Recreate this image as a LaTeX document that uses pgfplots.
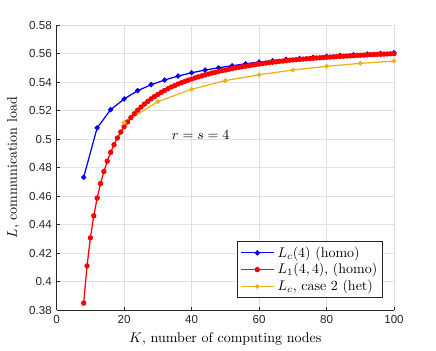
\documentclass[border=0pt]{standalone}
\usepackage{pgfplots}
\pgfplotsset{compat=1.18}
\usepackage{fontspec}
\newfontfamily\ticksf{Liberation Sans}

\definecolor{mblue}{rgb}{0,0,1}
\definecolor{mred}{rgb}{1,0,0}
\definecolor{morange}{rgb}{0.929,0.694,0.125}
\definecolor{axgray}{rgb}{0.15,0.15,0.15}
\definecolor{gridgray}{rgb}{0.88,0.88,0.88}

\begin{document}
\begin{tikzpicture}
\begin{axis}[
    scale only axis,
    width=241.1pt, height=203.6pt,
    xmin=0, xmax=100,
    ymin=0.38, ymax=0.58,
    xtick={0,20,...,100},
    ytick={0.38,0.40,...,0.581},
    axis x line*=bottom,
    axis y line*=left,
    axis line style={axgray, line width=0.5pt},
    tick pos=left,
    tick align=inside,
    major tick length=2.6pt,
    tick style={axgray, line width=0.5pt},
    grid=major,
    major grid style={gridgray, line width=0.5pt},
    /pgf/number format/assume math mode=true,
    tick label style={font=\ticksf\fontsize{8.3}{9}\selectfont, text=axgray},
    xlabel={$K$, number of computing nodes},
    ylabel={$L$, communication load},
    label style={font=\fontsize{10}{12}\selectfont},
    legend style={at={(0.966,0.043)}, anchor=south east,
        draw=axgray, line width=0.5pt, fill=white,
        font=\fontsize{10}{12}\selectfont, row sep=-1pt,
        inner sep=1.5pt},
    legend cell align=left,
    legend image code/.code={
        \draw[mark repeat=2,mark phase=2] plot coordinates {(0pt,0pt) (12pt,0pt) (24pt,0pt)};
    },
]

% L_c(4) homo
\addplot[mblue, line width=0.9pt, mark=*, mark size=1.4pt] coordinates {
(8,0.4733) (12,0.5080) (16,0.5208) (20,0.5283) (24,0.5341) (28,0.5383)
(32,0.5416) (36,0.5444) (40,0.5467) (44,0.5486) (48,0.5502) (52,0.5516)
(56,0.5530) (60,0.5542) (64,0.5551) (68,0.5561) (72,0.5567) (76,0.5575)
(80,0.5582) (84,0.5588) (88,0.5593) (92,0.5598) (96,0.5603) (100,0.5608)
};
\addlegendentry{$L_c(4)$ (homo)}

% L_1(4,4) homo
\addplot[mred, line width=0.9pt, mark=*, mark size=1.45pt] coordinates {
(8,0.3850) (9,0.4111) (10,0.4308) (11,0.4463) (12,0.4587) (13,0.4689)
(14,0.4774) (15,0.4846) (16,0.4908) (17,0.4962) (18,0.5009) (19,0.5051)
(20,0.5088) (21,0.5122) (22,0.5152) (23,0.5179) (24,0.5204) (25,0.5226)
(26,0.5247) (27,0.5266) (28,0.5284) (29,0.5300) (30,0.5315) (31,0.5329)
(32,0.5343) (33,0.5355) (34,0.5367) (35,0.5377) (36,0.5388) (37,0.5397)
(38,0.5406) (39,0.5415) (40,0.5423) (41,0.5431) (42,0.5438) (43,0.5445)
(44,0.5452) (45,0.5458) (46,0.5465) (47,0.5470) (48,0.5476) (49,0.5481)
(50,0.5486) (51,0.5491) (52,0.5496) (53,0.5501) (54,0.5505) (55,0.5509)
(56,0.5513) (57,0.5517) (58,0.5521) (59,0.5524) (60,0.5528) (61,0.5531)
(62,0.5535) (63,0.5538) (64,0.5541) (65,0.5544) (66,0.5547) (67,0.5549)
(68,0.5552) (69,0.5555) (70,0.5557) (71,0.5559) (72,0.5561) (73,0.5563)
(74,0.5565) (75,0.5567) (76,0.5569) (77,0.5571) (78,0.5572) (79,0.5574)
(80,0.5576) (81,0.5577) (82,0.5579) (83,0.5580) (84,0.5582) (85,0.5583)
(86,0.5585) (87,0.5586) (88,0.5587) (89,0.5589) (90,0.5590) (91,0.5591)
(92,0.5592) (93,0.5594) (94,0.5595) (95,0.5596) (96,0.5597) (97,0.5598)
(98,0.5599) (99,0.5600) (100,0.5601)
};
\addlegendentry{$L_1(4,4)$, (homo)}

% L_c case 2 het
\addplot[morange, line width=0.9pt, mark=*, mark size=1.2pt] coordinates {
(20,0.5117) (30,0.5264) (40,0.5351) (50,0.5412) (60,0.5453)
(70,0.5486) (80,0.5512) (90,0.5533) (100,0.5549)
};
\addlegendentry{$L_c$, case 2 (het)}

\node[anchor=base, font=\fontsize{10}{12}\selectfont] at (axis cs:42.7,0.4995) {$r=s=4$};
\end{axis}
\path ([shift={(-40.5pt,-27.6pt)}]current axis.south west)
      ([shift={(30pt,18.1pt)}]current axis.north east);
\end{tikzpicture}
\end{document}
